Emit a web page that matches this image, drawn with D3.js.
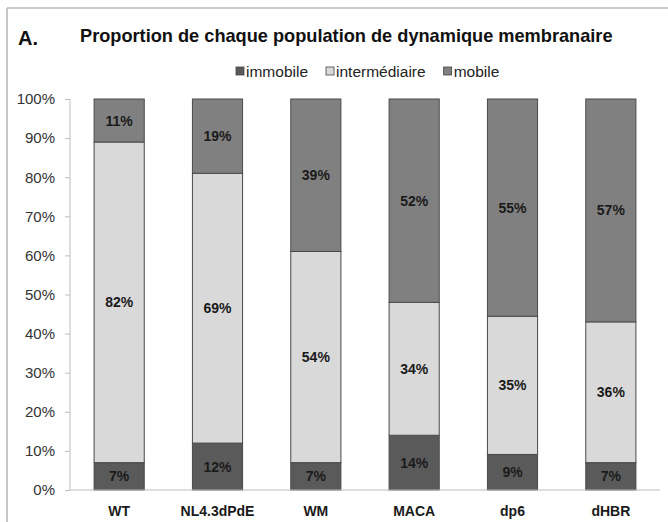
<!DOCTYPE html>
<html>
<head>
<meta charset="utf-8">
<script src="https://cdn.jsdelivr.net/npm/d3@7"></script>
<style>
  html, body { margin: 0; padding: 0; background: #fff; }
  svg { display: block; font-family: Arial, "Liberation Sans", sans-serif; }
</style>
</head>
<body>
<svg id="chart" width="668" height="522"></svg>
<script>
// Constructs and their membrane-dynamics populations (percent)
const categories = ["WT", "NL4.3dPdE", "WM", "MACA", "dp6", "dHBR"];
const immobile = [7, 12, 7, 14, 9, 7];
const intermediaire = [82, 69, 54, 34, 35, 36];
const mobile = [11, 19, 39, 52, 55, 57];
const seriesNames = ["immobile", "intermédiaire", "mobile"];
const yTicks = [0, 0.1, 0.2, 0.3, 0.4, 0.5, 0.6, 0.7, 0.8, 0.9, 1];

const colors = { "immobile": "#5a5a5a", "intermédiaire": "#d9d9d9", "mobile": "#808080" };

const rows = categories.map((c, i) => ({
  cat: c,
  "immobile": immobile[i],
  "intermédiaire": intermediaire[i],
  "mobile": mobile[i]
}));

const svg = d3.select("#chart");

// light frame on top and left
svg.append("line").attr("x1", 7).attr("x2", 668).attr("y1", 8).attr("y2", 8)
  .attr("stroke", "#c8c8c8").attr("stroke-width", 2);
svg.append("line").attr("x1", 7).attr("x2", 7).attr("y1", 8).attr("y2", 522)
  .attr("stroke", "#c8c8c8").attr("stroke-width", 2);

// titles
svg.append("text").attr("x", 18).attr("y", 45)
  .attr("font-size", 20).attr("font-weight", "bold").attr("fill", "#111")
  .text("A.");
svg.append("text").attr("x", 80).attr("y", 42)
  .attr("font-size", 18.2).attr("font-weight", "bold").attr("fill", "#111")
  .text("Proportion de chaque population de dynamique membranaire");

const x = d3.scaleBand().domain(categories).range([70, 660]).paddingInner(0.49).paddingOuter(0.245);
const y = d3.scaleLinear().domain([0, 1]).range([490, 99]);

const stacked = d3.stack().keys(seriesNames).offset(d3.stackOffsetExpand)(rows);

// y axis
const yAxis = svg.append("g").attr("transform", "translate(70,0)")
  .call(d3.axisLeft(y).tickValues(yTicks).tickFormat(d3.format(".0%")).tickSize(5).tickPadding(10));
yAxis.select(".domain").attr("stroke", "#bdbdbd").attr("d", "M0,99V490");
yAxis.selectAll(".tick line").attr("stroke", "#bdbdbd");
yAxis.selectAll(".tick text").attr("font-size", 15).attr("fill", "#333")
  .attr("font-family", "Arial, 'Liberation Sans', sans-serif");

// bars
const layer = svg.append("g");
stacked.forEach(s => {
  layer.append("g").selectAll("rect").data(s).join("rect")
    .attr("x", d => x(d.data.cat))
    .attr("width", x.bandwidth())
    .attr("y", d => y(d[1]))
    .attr("height", d => y(d[0]) - y(d[1]))
    .attr("fill", colors[s.key])
    .attr("stroke", "#4a4a4a")
    .attr("stroke-width", 1);
});

// value labels
stacked.forEach(s => {
  layer.append("g").selectAll("text").data(s).join("text")
    .attr("x", d => x(d.data.cat) + x.bandwidth() / 2)
    .attr("y", d => (y(d[0]) + y(d[1])) / 2 + 5)
    .attr("text-anchor", "middle")
    .attr("font-size", 14).attr("font-weight", "bold").attr("fill", "#1a1a1a")
    .text(d => d.data[s.key] + "%");
});

// x axis
svg.append("line").attr("x1", 70).attr("x2", 660).attr("y1", 490).attr("y2", 490)
  .attr("stroke", "#bdbdbd").attr("stroke-width", 1);
svg.append("g").selectAll("text").data(categories).join("text")
  .attr("x", d => x(d) + x.bandwidth() / 2)
  .attr("y", 516)
  .attr("text-anchor", "middle")
  .attr("font-size", 14).attr("font-weight", "bold").attr("fill", "#1a1a1a")
  .text(d => d);

// legend
const legend = svg.append("g");
let lx = 236;
seriesNames.forEach(name => {
  legend.append("rect").attr("x", lx).attr("y", 67).attr("width", 8).attr("height", 8)
    .attr("fill", colors[name]).attr("stroke", "#444").attr("stroke-width", 0.8);
  const t = legend.append("text").attr("x", lx + 10).attr("y", 77)
    .attr("font-size", 15.5).attr("fill", "#222").text(name);
  lx += 10 + t.node().getComputedTextLength() + 18;
});
</script>
</body>
</html>
